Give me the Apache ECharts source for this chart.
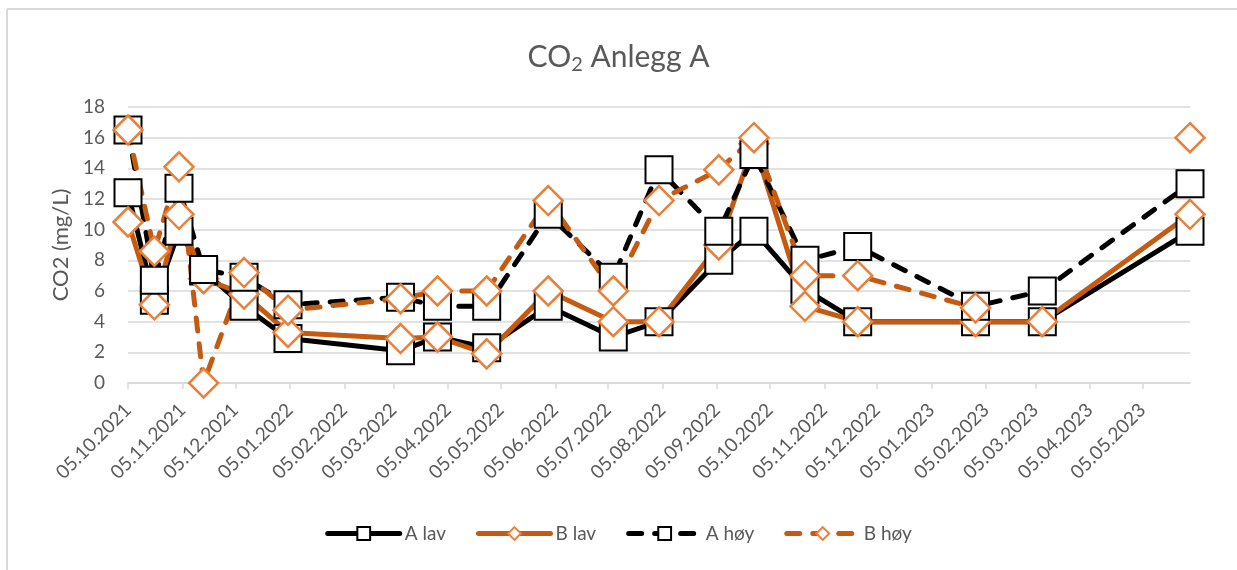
<!DOCTYPE html>
<html>
<head>
<meta charset="utf-8">
<title>CO2 Anlegg A</title>
<script src="https://cdn.jsdelivr.net/npm/echarts@6/dist/echarts.min.js"></script>
<style>
  html, body { margin: 0; padding: 0; background: #fff; }
  #chart { width: 1237px; height: 570px; }
</style>
</head>
<body>
<div id="chart"></div>
<script>
// sampling dates (dd.mm.yyyy) and measured CO2 values (mg/L)
const sampleDates = [
  '05.10.2021', '20.10.2021', '03.11.2021', '17.11.2021', '10.12.2021',
  '04.01.2022', '09.03.2022', '30.03.2022', '27.04.2022', '01.06.2022',
  '08.07.2022', '03.08.2022', '06.09.2022', '26.09.2022', '25.10.2022',
  '24.11.2022', '30.01.2023', '09.03.2023', '01.06.2023'
];
const aLav = [12.4, 5.4, 9.9, 7.3, 5.0, 2.9, 2.1, 3.0, 2.3, 5.0, 3.0, 4.0, 8.0, 9.9, 6.1, 4.0, 4.0, 4.0, 9.9];
const bLav = [10.5, 5.1, 11.0, 6.8, 5.8, 3.3, 2.9, 3.0, 1.9, 6.0, 4.0, 4.0, 9.0, 15.6, 5.0, 4.0, 4.0, 4.0, 11.0];
const aHoy = [16.5, 6.7, 12.7, 7.4, 6.9, 5.1, 5.6, 5.0, 5.0, 11.0, 6.9, 13.9, 9.9, 14.9, 8.0, 8.9, 5.0, 6.0, 13.0];
const bHoy = [16.5, 8.6, 14.1, 0.0, 7.2, 4.75, 5.5, 6.0, 6.0, 11.9, 6.0, 11.9, 13.9, 16.0, 7.0, 7.0, 4.9, null, 16.0];

// x axis tick labels
const tickDates = [
  '05.10.2021', '05.11.2021', '05.12.2021', '05.01.2022', '05.02.2022',
  '05.03.2022', '05.04.2022', '05.05.2022', '05.06.2022', '05.07.2022',
  '05.08.2022', '05.09.2022', '05.10.2022', '05.11.2022', '05.12.2022',
  '05.01.2023', '05.02.2023', '05.03.2023', '05.04.2023', '05.05.2023'
];
const axisStart = '05.10.2021';
const axisEnd = '01.06.2023';

// dates as day numbers on a plain value axis
function toDay(s) {
  const p = s.split('.');
  return Math.round(Date.UTC(+p[2], +p[1] - 1, +p[0]) / 86400000);
}
function fmtDay(v) {
  const d = new Date(Math.round(v) * 86400000);
  const pad = n => (n < 10 ? '0' : '') + n;
  return pad(d.getUTCDate()) + '.' + pad(d.getUTCMonth() + 1) + '.' + d.getUTCFullYear();
}
function pairs(values) {
  return sampleDates.map((d, i) => [toDay(d), values[i]]);
}

const FONT = 'Lato, "Open Sans", sans-serif';
const GREY = '#595959';
const BLACK = '#000000';
const ORANGE = '#C55A11';
const ORANGE_MARK = '#E8803A';
const tickValues = tickDates.map(toDay);

function makeSeries(name, values, color, markColor, symbol, dashed) {
  return {
    name: name,
    type: 'line',
    data: pairs(values),
    connectNulls: false,
    symbol: symbol,
    symbolSize: symbol === 'rect' ? 27 : 29,
    showAllSymbol: true,
    lineStyle: {
      color: color,
      width: 5,
      type: dashed ? [13, 13] : 'solid',
      cap: 'round'
    },
    itemStyle: {
      color: '#ffffff',
      borderColor: markColor,
      borderWidth: symbol === 'rect' ? 2 : 2.5
    },
    emphasis: { disabled: true },
    z: 2
  };
}

const chart = echarts.init(document.getElementById('chart'));
chart.setOption({
  animation: false,
  backgroundColor: '#ffffff',
  textStyle: { fontFamily: FONT },
  title: {
    text: 'CO{sub|2} Anlegg A',
    left: 'center',
    top: 35,
    textStyle: {
      fontFamily: FONT,
      fontSize: 30,
      fontWeight: 'normal',
      color: GREY,
      rich: {
        sub: { fontFamily: FONT, fontSize: 20, color: GREY, verticalAlign: 'bottom', padding: [15, 0, 0, 0] }
      }
    }
  },
  legend: {
    bottom: 22,
    left: 'center',
    itemWidth: 72,
    itemHeight: 16,
    itemGap: 30,
    lineStyle: { width: 5 },
    textStyle: { fontFamily: FONT, fontSize: 19, color: GREY },
    data: ['A lav', 'B lav', 'A høy', 'B høy']
  },
  grid: { left: 128, right: 47, top: 107, bottom: 187 },
  xAxis: {
    type: 'value',
    min: toDay(axisStart),
    max: toDay(axisEnd),
    axisLine: { lineStyle: { color: '#d9d9d9', width: 1.5 } },
    axisTick: {
      show: true,
      length: 6,
      customValues: tickValues,
      lineStyle: { color: '#d9d9d9', width: 1.5 }
    },
    splitLine: { show: false },
    axisLabel: {
      rotate: 45,
      margin: 24,
      fontFamily: FONT,
      fontSize: 19,
      color: GREY,
      customValues: tickValues,
      formatter: v => fmtDay(v)
    }
  },
  yAxis: {
    type: 'value',
    min: 0,
    max: 18,
    interval: 2,
    name: 'CO2 (mg/L)',
    nameLocation: 'middle',
    nameGap: 56,
    nameTextStyle: { fontFamily: FONT, fontSize: 22, color: GREY },
    axisLine: { show: false },
    axisTick: { show: false },
    axisLabel: { fontFamily: FONT, fontSize: 19, color: GREY, margin: 23 },
    splitLine: { lineStyle: { color: '#d9d9d9', width: 1.5 } }
  },
  graphic: [
    { type: 'line', shape: { x1: 7, y1: 9, x2: 1237, y2: 9 }, style: { stroke: '#d9d9d9', lineWidth: 2 } },
    { type: 'line', shape: { x1: 7, y1: 9, x2: 7, y2: 570 }, style: { stroke: '#d9d9d9', lineWidth: 2 } }
  ],
  series: [
    makeSeries('A lav', aLav, BLACK, BLACK, 'rect', false),
    makeSeries('B lav', bLav, ORANGE, ORANGE_MARK, 'diamond', false),
    makeSeries('A høy', aHoy, BLACK, BLACK, 'rect', true),
    makeSeries('B høy', bHoy, ORANGE, ORANGE_MARK, 'diamond', true)
  ]
});
</script>
</body>
</html>
